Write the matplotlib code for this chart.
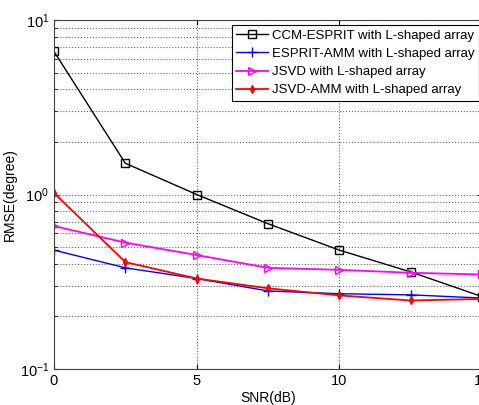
import matplotlib
matplotlib.use("Agg")
import matplotlib.pyplot as plt
from matplotlib.ticker import LogLocator, NullFormatter

plt.rcParams["font.family"] = ["Liberation Sans", "DejaVu Sans"]

snr = [0, 2.5, 5, 7.5, 10, 12.5, 15]
ccm_esprit = [6.6, 1.51, 1.0, 0.68, 0.48, 0.36, 0.26]
esprit_amm = [0.48, 0.38, 0.33, 0.28, 0.27, 0.266, 0.255]
jsvd = [0.66, 0.53, 0.45, 0.38, 0.37, 0.356, 0.348]
jsvd_amm = [1.02, 0.41, 0.33, 0.29, 0.264, 0.247, 0.252]

labels = [
    "CCM-ESPRIT with L-shaped array",
    "ESPRIT-AMM with L-shaped array",
    "JSVD with L-shaped array",
    "JSVD-AMM with L-shaped array",
]

W, H = 479, 405
fig = plt.figure(figsize=(W / 100, H / 100), dpi=100)
ax = fig.add_axes([54 / W, (H - 369) / H, (482 - 54) / W, (369 - 20) / H])

ax.semilogy(snr, ccm_esprit, color="black", marker="s", mfc="none", ms=6, lw=1.0, label=labels[0])
ax.semilogy(snr, esprit_amm, color="#0000ff", marker="+", ms=7, lw=1.0, label=labels[1])
ax.semilogy(snr, jsvd, color="#ff00ff", marker=">", mfc="none", ms=6, lw=1.3, label=labels[2])
ax.semilogy(snr, jsvd_amm, color="#ff0000", marker="d", ms=4, lw=1.3, label=labels[3])

ax.set_xlim(0, 15)
ax.set_ylim(0.1, 10)
ax.set_xticks([0, 5, 10, 15])
ax.yaxis.set_major_locator(LogLocator(base=10))
ax.yaxis.set_minor_locator(LogLocator(base=10, subs=range(2, 10)))
ax.yaxis.set_minor_formatter(NullFormatter())

ax.grid(True, which="major", linestyle=":", color="#666666", lw=0.8)
ax.grid(True, which="minor", axis="y", linestyle=":", color="#666666", lw=0.8)
ax.tick_params(direction="in", which="both", labelsize=10.5, top=True, right=True)
ax.tick_params(which="minor", length=2)
for s in ax.spines.values():
    s.set_color("#444444")

ax.set_xlabel("SNR(dB)", fontsize=10, labelpad=2)
ax.set_ylabel("RMSE(degree)", fontsize=10, labelpad=2)

leg = ax.legend(loc="upper right", bbox_to_anchor=(479 / W, 1 - 25 / H), bbox_transform=fig.transFigure,
                fontsize=9.5, fancybox=False, framealpha=1, edgecolor="black", borderaxespad=0,
                handlelength=2.4, handletextpad=0.3, labelspacing=0.45, borderpad=0.35)
leg.get_frame().set_linewidth(0.8)

fig.savefig("out.png", dpi=100)
